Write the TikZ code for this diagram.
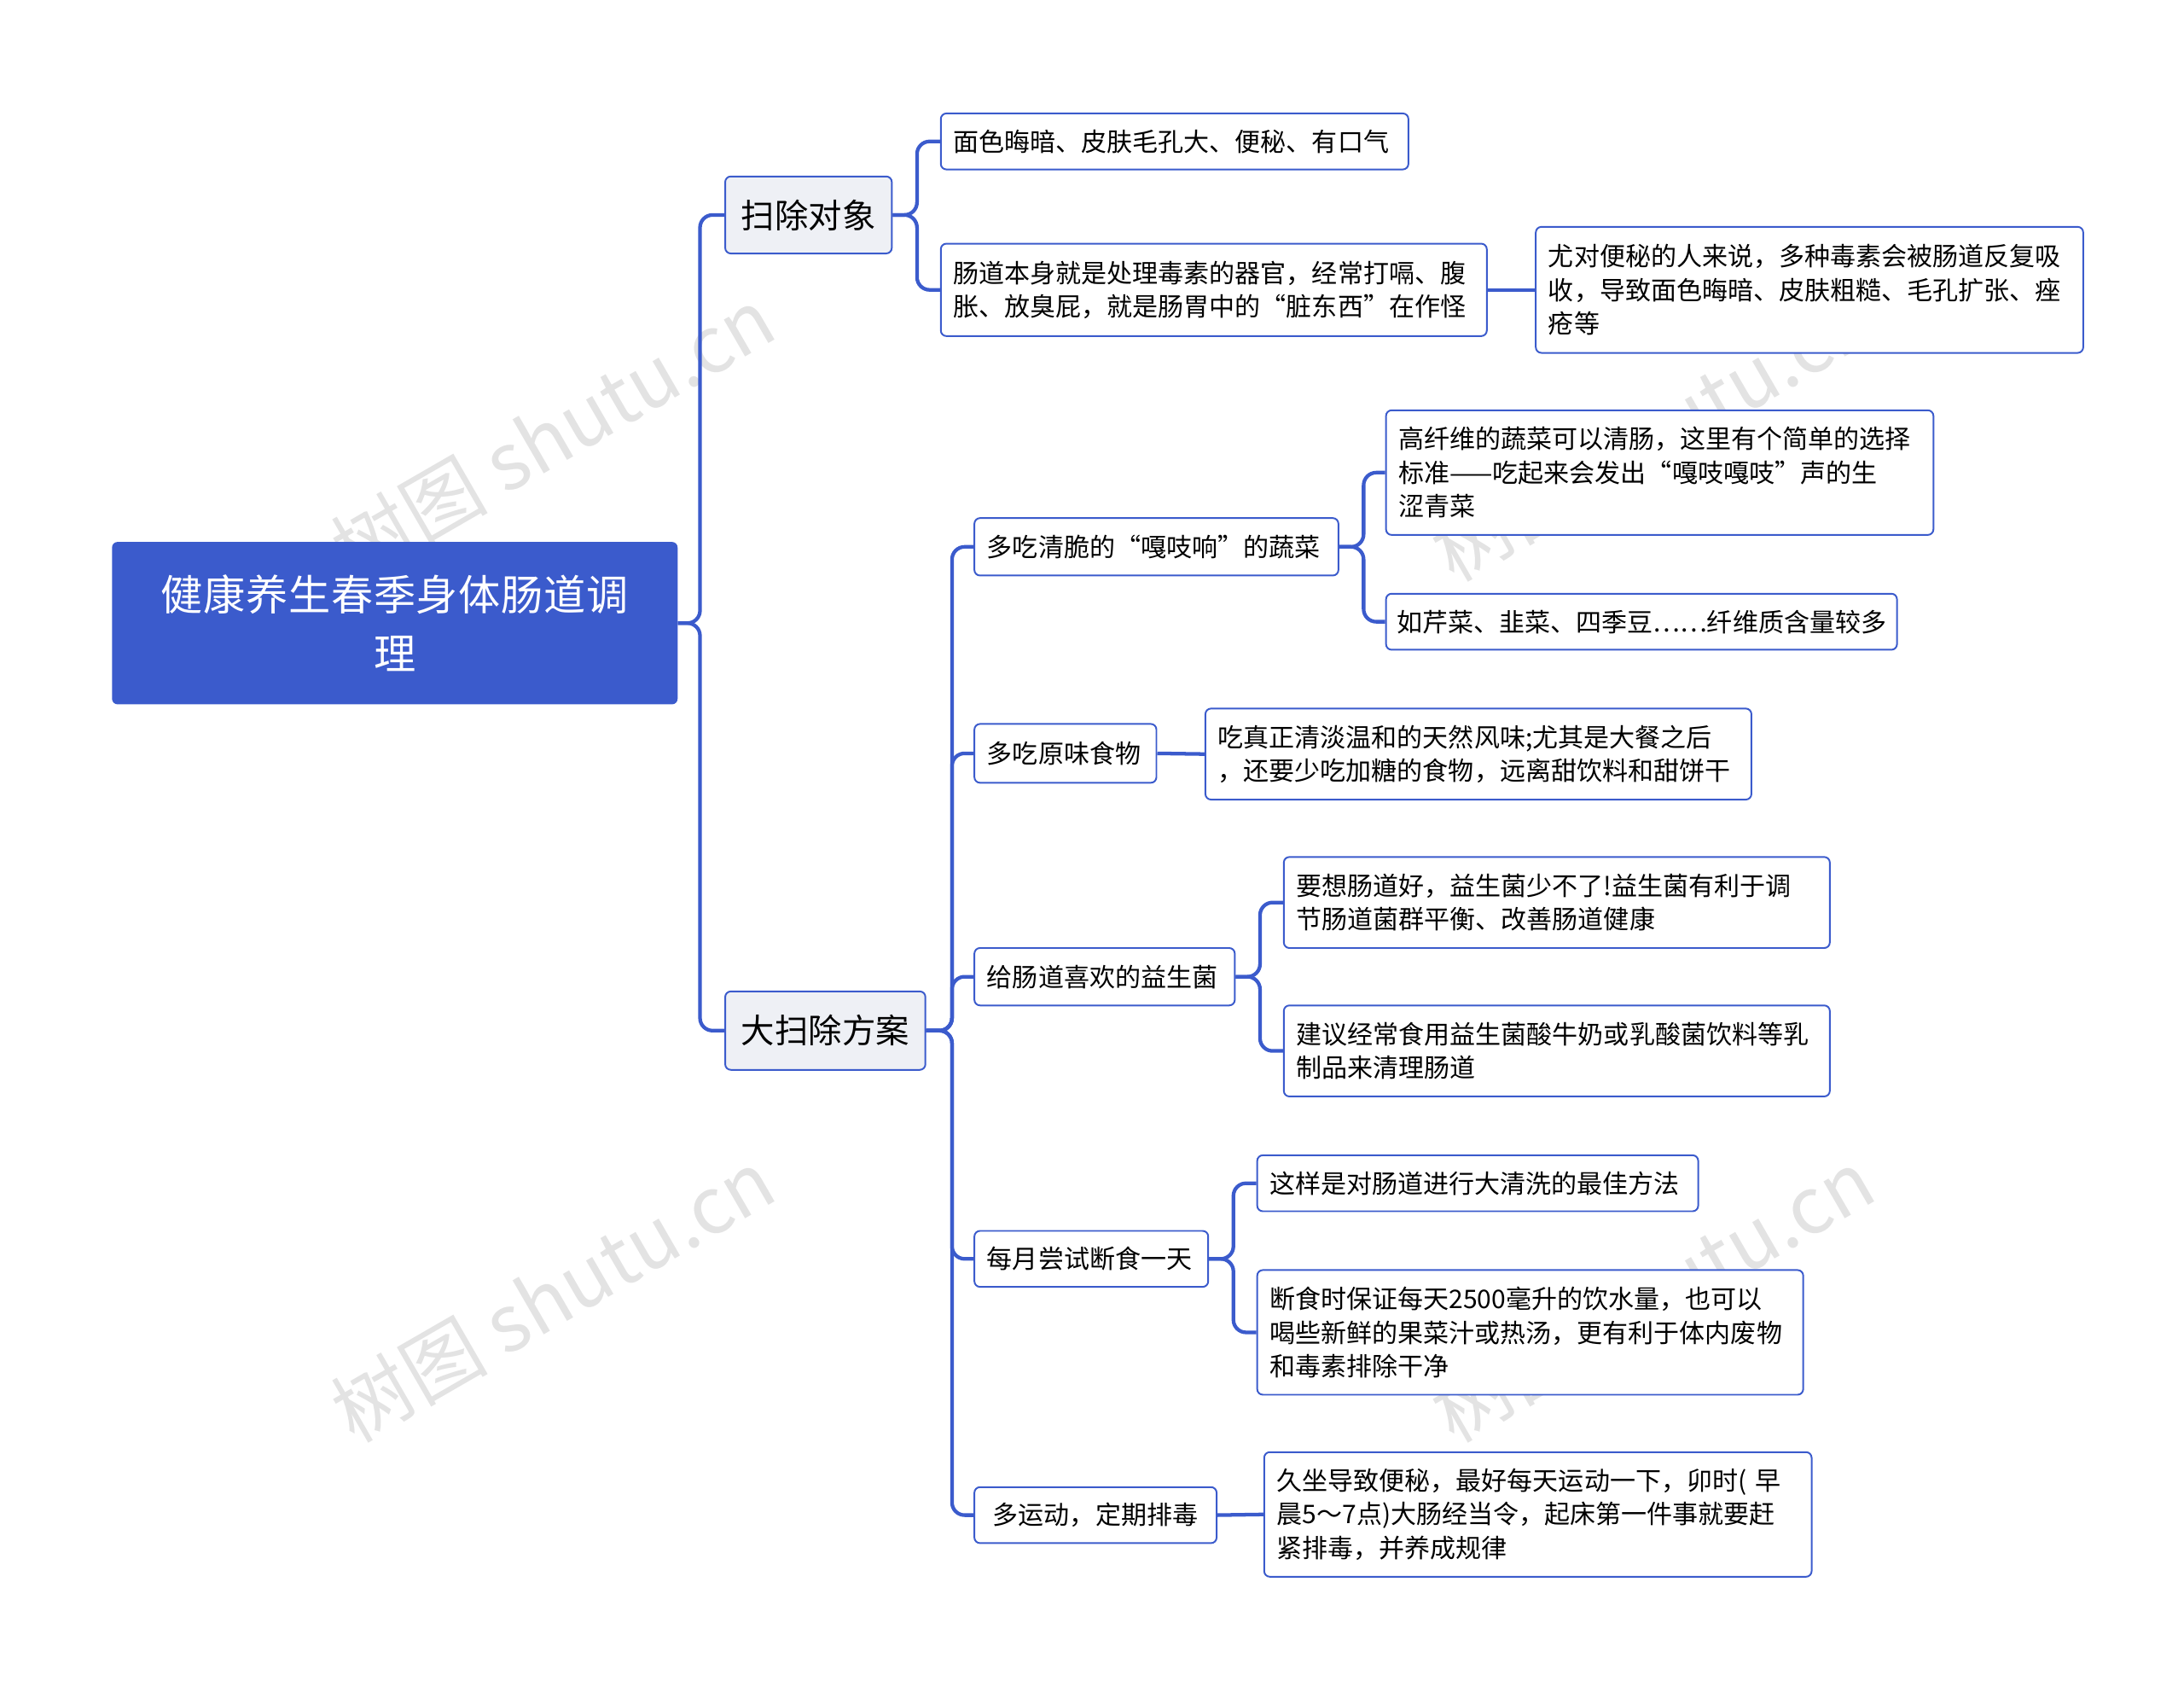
\documentclass[tikz,border=0pt]{standalone}
\usepackage{fontspec}
\setmainfont{Noto Sans CJK SC}
\XeTeXlinebreaklocale "zh"
\XeTeXlinebreakskip=0pt plus 1pt
\definecolor{bl}{HTML}{3B5BCC}
\definecolor{lg}{HTML}{EEF0F5}
\begin{document}
\begin{tikzpicture}[x=1pt,y=-1pt,
 conn/.style={draw=bl,line width=2.6pt,rounded corners=9pt},
 lv2/.style={draw=bl,line width=1.2pt,fill=white,rounded corners=4pt,inner xsep=9pt,inner ysep=2pt,align=left,font=\fontsize{18.3}{24}\selectfont},
 lv1/.style={draw=bl,line width=1.2pt,fill=lg,rounded corners=4pt,inner sep=0pt,font=\fontsize{24}{30}\selectfont},
 wm/.style={text=gray!22,rotate=30,font=\fontsize{56}{60}\selectfont}]
\useasboundingbox (0,0) rectangle (1560,1200);
\node[wm] at (395,310) {树图 shutu.cn};
\node[wm] at (395,925) {树图 shutu.cn};
\node[wm] at (1180,310) {树图 shutu.cn};
\node[wm] at (1180,925) {树图 shutu.cn};
\node[fill=bl,rounded corners=4pt,minimum width=404pt,minimum height=116pt,text width=380pt,align=center,text=white,font=\fontsize{30}{42}\selectfont] (root) at (282,445) {健康养生春季身体肠道调\\理};
\node[lv1,minimum width=119pt,minimum height=55pt] (a) at (577.5,153.5) {扫除对象};
\node[lv1,minimum width=143pt,minimum height=56pt] (b) at (589.5,736) {大扫除方案};
\node[lv2,text width=316pt,minimum height=40pt] (a1) at (839,101) {面色晦暗、皮肤毛孔大、便秘、有口气};
\node[lv2,text width=372pt,minimum height=66pt] (a2) at (867,207) {肠道本身就是处理毒素的器官，经常打嗝、腹\\胀、放臭屁，就是肠胃中的“脏东西”在作怪};
\node[lv2,text width=373pt,minimum height=90pt] (a21) at (1292.5,207) {尤对便秘的人来说，多种毒素会被肠道反复吸\\收，导致面色晦暗、皮肤粗糙、毛孔扩张、痤\\疮等};
\node[lv2,text width=242pt,minimum height=41pt] (b1) at (826,390.5) {多吃清脆的“嘎吱响”的蔬菜};
\node[lv2,text width=373pt,minimum height=89pt] (b11) at (1185.5,337.5) {高纤维的蔬菜可以清肠，这里有个简单的选择\\标准——吃起来会发出“嘎吱嘎吱”声的生\\涩青菜};
\node[lv2,minimum width=365pt,minimum height=40pt,inner xsep=6pt] (b12) at (1172.5,444) {如芹菜、韭菜、四季豆……纤维质含量较多};
\node[lv2,text width=112pt,minimum height=42pt] (b2) at (761,538) {多吃原味食物};
\node[lv2,text width=372pt,minimum height=65pt] (b21) at (1056,538.5) {吃真正清淡温和的天然风味;尤其是大餐之后\\，还要少吃加糖的食物，远离甜饮料和甜饼干};
\node[lv2,text width=168pt,minimum height=41pt] (b3) at (789,697.5) {给肠道喜欢的益生菌};
\node[lv2,text width=372pt,minimum height=65pt] (b31) at (1112,644.5) {要想肠道好，益生菌少不了!益生菌有利于调\\节肠道菌群平衡、改善肠道健康};
\node[lv2,text width=372pt,minimum height=65pt] (b32) at (1112,750.5) {建议经常食用益生菌酸牛奶或乳酸菌饮料等乳\\制品来清理肠道};
\node[lv2,text width=149pt,minimum height=40pt] (b4) at (779.5,899) {每月尝试断食一天};
\node[lv2,text width=297pt,minimum height=40pt] (b41) at (1055.5,845) {这样是对肠道进行大清洗的最佳方法};
\node[lv2,text width=372pt,minimum height=89pt] (b42) at (1093,951.5) {断食时保证每天2500毫升的饮水量，也可以\\喝些新鲜的果菜汁或热汤，更有利于体内废物\\和毒素排除干净};
\node[lv2,text width=155pt,minimum height=40pt,align=center] (b5) at (782.5,1082) {多运动，定期排毒};
\node[lv2,text width=373pt,minimum height=89pt] (b51) at (1098.5,1081.5) {久坐导致便秘，最好每天运动一下，卯时( 早\\晨5～7点)大肠经当令，起床第一件事就要赶\\紧排毒，并养成规律};
\foreach \p/\x/\c in {root/500/a,root/500/b,a/655/a1,a/655/a2,b/680/b1,b/680/b2,b/680/b3,b/680/b4,b/680/b5,b1/974/b11,b1/974/b12,b3/900/b31,b3/900/b32,b4/881/b41,b4/881/b42}
 \draw[conn] (\p.east) -- (\x,0 |- \p.east) |- (\c.west);
\foreach \p/\c in {a2/a21,b2/b21,b5/b51}
 \draw[conn] (\p.east) -- (\c.west);
\end{tikzpicture}
\end{document}
